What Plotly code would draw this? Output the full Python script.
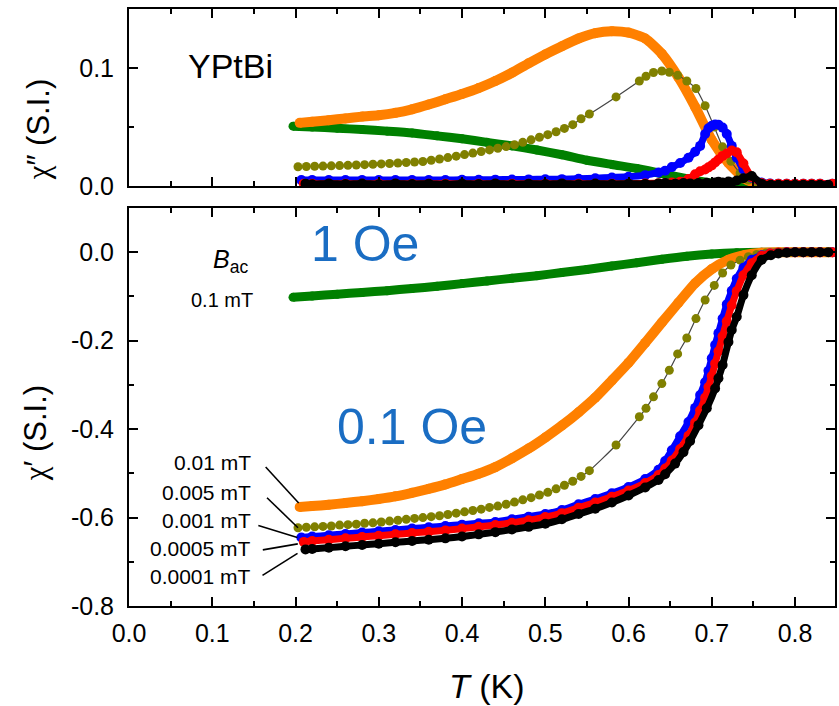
import plotly.graph_objects as go

# ---------------- data ----------------
# 0.1 mT (green)
T_g = [0.197, 0.22, 0.25, 0.28, 0.31, 0.34, 0.37, 0.40, 0.43, 0.46, 0.49, 0.52, 0.55,
       0.58, 0.61, 0.64, 0.67, 0.70, 0.73, 0.76, 0.79, 0.82, 0.845]
chi1_g = [-0.102, -0.099, -0.095, -0.091, -0.087, -0.082, -0.077, -0.071, -0.065, -0.059,
          -0.053, -0.046, -0.039, -0.031, -0.024, -0.016, -0.009, -0.004, -0.001, 0.0,
          0.0, 0.0, 0.0]
chi2_g = [0.0507, 0.0500, 0.0490, 0.0478, 0.0465, 0.0450, 0.0425, 0.0400, 0.0370, 0.0340,
          0.0305, 0.0265, 0.0218, 0.0182, 0.0148, 0.0105, 0.0062, 0.0025, 0.0008, 0.0003,
          0.0002, 0.0002, 0.0002]

# 0.01 mT (orange)
T_o = [0.205, 0.22, 0.24, 0.26, 0.28, 0.30, 0.32, 0.34, 0.36, 0.38, 0.40, 0.42, 0.44, 0.46,
       0.48, 0.50, 0.52, 0.54, 0.56, 0.58, 0.60, 0.62, 0.64, 0.66, 0.68, 0.70, 0.72, 0.74,
       0.76, 0.78, 0.80, 0.82, 0.845]
chi1_o = [-0.576, -0.574, -0.571, -0.567, -0.563, -0.558, -0.552, -0.544, -0.535, -0.525,
          -0.513, -0.501, -0.486, -0.466, -0.444, -0.419, -0.392, -0.362, -0.329, -0.290,
          -0.250, -0.205, -0.159, -0.114, -0.070, -0.038, -0.017, -0.006, -0.001, 0.0,
          0.0, 0.0, 0.0]
chi2_o = [0.0535, 0.0545, 0.0558, 0.0572, 0.0588, 0.0600, 0.0620, 0.0650, 0.0690, 0.0735,
          0.0780, 0.0830, 0.0890, 0.0960, 0.1040, 0.1115, 0.1185, 0.1250, 0.1295, 0.1312,
          0.1300, 0.1250, 0.1120, 0.0920, 0.0670, 0.0390, 0.0195, 0.0060, 0.0015, 0.0005,
          0.0003, 0.0003, 0.0003]

# 0.005 mT (olive)
T_ol = [0.203, 0.213, 0.223, 0.233, 0.243, 0.253, 0.263, 0.273, 0.283, 0.293, 0.303, 0.313,
        0.323, 0.333, 0.343, 0.353, 0.363, 0.373, 0.383, 0.393, 0.403, 0.413, 0.423, 0.433,
        0.443, 0.453, 0.463, 0.473, 0.483, 0.493, 0.503, 0.513, 0.523, 0.533, 0.543, 0.553,
        0.585, 0.613, 0.621, 0.630, 0.640, 0.649, 0.659, 0.670, 0.681, 0.692, 0.703, 0.713,
        0.723, 0.734, 0.744, 0.754, 0.765, 0.775, 0.786, 0.796, 0.807, 0.817, 0.828, 0.838]
chi1_ol = [-0.623, -0.622, -0.621, -0.620, -0.619, -0.617, -0.616, -0.615, -0.613, -0.612,
           -0.610, -0.608, -0.606, -0.604, -0.602, -0.600, -0.598, -0.596, -0.593, -0.590,
           -0.587, -0.584, -0.581, -0.577, -0.574, -0.570, -0.565, -0.560, -0.555, -0.549,
           -0.543, -0.535, -0.527, -0.518, -0.507, -0.494,
           -0.436, -0.372, -0.353, -0.327, -0.297, -0.267, -0.230, -0.194, -0.150, -0.108,
           -0.075, -0.047, -0.029, -0.018, -0.010, -0.005, -0.002, -0.001, 0.0, 0.0,
           0.0, 0.0, 0.0, 0.0]
chi2_ol = [0.0163, 0.0165, 0.0167, 0.0169, 0.0171, 0.0173, 0.0175, 0.0178, 0.0181, 0.0184,
           0.0187, 0.0191, 0.0195, 0.0199, 0.0203, 0.0208, 0.0218, 0.0229, 0.0241, 0.0253,
           0.0266, 0.0279, 0.0292, 0.0306, 0.0320, 0.0334, 0.0350, 0.0370, 0.0391, 0.0413,
           0.0435, 0.0460, 0.0488, 0.0520, 0.0570, 0.0610,
           0.0755, 0.0890, 0.0930, 0.0962, 0.0975, 0.0964, 0.0938, 0.0890, 0.0826, 0.0680,
           0.0500, 0.0332, 0.0210, 0.0110, 0.0050, 0.0020, 0.0010, 0.0008, 0.0005, 0.0005,
           0.0005, 0.0005, 0.0005, 0.0005]

# 0.001 mT (blue)
T_b = [0.207, 0.22, 0.24, 0.26, 0.28, 0.30, 0.32, 0.34, 0.36, 0.38, 0.40, 0.42, 0.44, 0.46,
       0.48, 0.50, 0.52, 0.54, 0.56, 0.58, 0.60, 0.62, 0.636, 0.644, 0.652, 0.662, 0.672,
       0.680, 0.686, 0.692, 0.696, 0.700, 0.704, 0.708, 0.713, 0.718, 0.724, 0.730, 0.738,
       0.748, 0.76, 0.77, 0.78, 0.79, 0.80, 0.81, 0.82, 0.83, 0.845]
chi1_b = [-0.645, -0.643, -0.640, -0.637, -0.634, -0.631, -0.628, -0.625, -0.622, -0.619,
          -0.616, -0.613, -0.610, -0.604, -0.598, -0.592, -0.583, -0.570, -0.558, -0.545,
          -0.531, -0.513, -0.492, -0.472, -0.448, -0.416, -0.384, -0.352, -0.323, -0.294,
          -0.268, -0.240, -0.210, -0.183, -0.150, -0.118, -0.087, -0.060, -0.035, -0.017,
          -0.007, -0.003, -0.001, 0.0, 0.0, 0.0, 0.0, 0.0, 0.0]
chi2_b = [0.0050, 0.0050, 0.0050, 0.0050, 0.0050, 0.0050, 0.0050, 0.0050, 0.0050, 0.0051,
          0.0052, 0.0053, 0.0054, 0.0055, 0.0056, 0.0057, 0.0058, 0.0062, 0.0066, 0.0072,
          0.0078, 0.0092, 0.0115, 0.0130, 0.0160, 0.0195, 0.0240, 0.0290, 0.0340, 0.0440,
          0.0490, 0.0510, 0.0522, 0.0520, 0.0495, 0.0440, 0.0340, 0.0240, 0.0140, 0.0070,
          0.0030, 0.0022, 0.0020, 0.0020, 0.0020, 0.0020, 0.0020, 0.0020, 0.0020]

# 0.0005 mT (red)
T_r = [0.210, 0.22, 0.24, 0.26, 0.28, 0.30, 0.32, 0.34, 0.36, 0.38, 0.40, 0.42, 0.44, 0.46,
       0.48, 0.50, 0.52, 0.54, 0.56, 0.58, 0.60, 0.62, 0.636, 0.644, 0.652, 0.662, 0.672,
       0.680, 0.686, 0.692, 0.696, 0.700, 0.704, 0.708, 0.713, 0.718, 0.724, 0.730, 0.738,
       0.748, 0.76, 0.77, 0.78, 0.79, 0.80, 0.81, 0.82, 0.83, 0.845]
chi1_r = [-0.655, -0.653, -0.650, -0.647, -0.644, -0.641, -0.638, -0.635, -0.632, -0.629,
          -0.625, -0.621, -0.617, -0.612, -0.606, -0.599, -0.590, -0.578, -0.566, -0.553,
          -0.539, -0.522, -0.504, -0.489, -0.471, -0.445, -0.415, -0.385, -0.358, -0.329,
          -0.305, -0.280, -0.252, -0.224, -0.190, -0.156, -0.120, -0.088, -0.052, -0.025,
          -0.008, -0.003, -0.001, 0.0, 0.0, 0.0, 0.0, 0.0, 0.0]
chi2_r = [0.0020, 0.0020, 0.0020, 0.0020, 0.0020, 0.0020, 0.0020, 0.0020, 0.0020, 0.0020,
          0.0020, 0.0020, 0.0020, 0.0020, 0.0020, 0.0020, 0.0020, 0.0020, 0.0020, 0.0020,
          0.0020, 0.0022, 0.0024, 0.0026, 0.0030, 0.0036, 0.0060, 0.0100, 0.0125, 0.0140,
          0.0158, 0.0175, 0.0200, 0.0225, 0.0255, 0.0276, 0.0300, 0.0285, 0.0190, 0.0075,
          0.0025, 0.0020, 0.0020, 0.0020, 0.0020, 0.0020, 0.0020, 0.0020, 0.0020]

# 0.0001 mT (black)
T_k = [0.212, 0.22, 0.24, 0.26, 0.28, 0.30, 0.32, 0.34, 0.36, 0.38, 0.40, 0.42, 0.44, 0.46,
       0.48, 0.50, 0.52, 0.54, 0.56, 0.58, 0.60, 0.62, 0.636, 0.644, 0.656, 0.666, 0.674,
       0.684, 0.694, 0.704, 0.708, 0.713, 0.720, 0.724, 0.730, 0.738, 0.748, 0.760, 0.771,
       0.780, 0.790, 0.800, 0.810, 0.820, 0.830, 0.840]
chi1_k = [-0.672, -0.671, -0.668, -0.665, -0.662, -0.659, -0.656, -0.653, -0.650, -0.647,
          -0.643, -0.638, -0.633, -0.627, -0.621, -0.614, -0.604, -0.592, -0.580, -0.566,
          -0.550, -0.532, -0.515, -0.502, -0.478, -0.452, -0.427, -0.391, -0.353, -0.308,
          -0.285, -0.255, -0.203, -0.176, -0.146, -0.097, -0.052, -0.017, -0.007, -0.003,
          -0.001, 0.0, 0.0, 0.0, 0.0, 0.0]
chi2_k = [0.0020, 0.0015, 0.0022, 0.0016, 0.0021, 0.0015, 0.0022, 0.0016, 0.0020, 0.0015,
          0.0021, 0.0016, 0.0022, 0.0015, 0.0020, 0.0016, 0.0022, 0.0015, 0.0021, 0.0016,
          0.0020, 0.0018, 0.0022, 0.0025, 0.0020, 0.0026, 0.0022, 0.0025, 0.0028, 0.0030,
          0.0035, 0.0030, 0.0038, 0.0030, 0.0046, 0.0065, 0.0085, 0.0020, 0.0010, 0.0010,
          0.0010, 0.0010, 0.0010, 0.0010, 0.0010, 0.0010]

series_names = ["0.1 mT", "0.01 mT", "0.005 mT", "0.001 mT", "0.0005 mT", "0.0001 mT"]
label_names = ["0.01 mT", "0.005 mT", "0.001 mT", "0.0005 mT", "0.0001 mT"]

x_tickvals = [0.0, 0.1, 0.2, 0.3, 0.4, 0.5, 0.6, 0.7, 0.8]
x_ticktext = ["0.0", "0.1", "0.2", "0.3", "0.4", "0.5", "0.6", "0.7", "0.8"]
y1_tickvals = [-0.8, -0.6, -0.4, -0.2, 0.0]
y1_ticktext = ["-0.8", "-0.6", "-0.4", "-0.2", "0.0"]
y2_tickvals = [0.0, 0.1]
y2_ticktext = ["0.0", "0.1"]

# ---------------- figure ----------------
W_FIG, H_FIG = 839, 706
ML, MR, MT, MB = 129, 2, 9, 100
PW, PH = W_FIG - ML - MR, H_FIG - MT - MB


def px(x):
    return (x - ML) / PW


def py(y):
    return (H_FIG - MB - y) / PH


FONT = "Liberation Sans, Arial, Helvetica, sans-serif"
CHI = '<span style="font-family:Liberation Serif, DejaVu Serif, serif">χ</span>'

fig = go.Figure()

styles = [
    # (T, chi', chi'', color, marker size, line width, line color)
    (T_g, chi1_g, chi2_g, "#008000", 9, 9, "#008000"),
    (T_o, chi1_o, chi2_o, "#FF8000", 10, 10, "#FF8000"),
    (T_ol, chi1_ol, chi2_ol, "#808000", 9, 1.2, "#444444"),
    (T_b, chi1_b, chi2_b, "#0000FF", 10, 7, "#0000FF"),
    (T_r, chi1_r, chi2_r, "#FF0000", 10, 7, "#FF0000"),
    (T_k, chi1_k, chi2_k, "#000000", 10, 7, "#000000"),
]

for name, (T, c1, c2, col, ms, lw, lc) in zip(series_names, styles):
    fig.add_trace(go.Scatter(x=T, y=c1, mode="lines+markers", name=name,
                             line=dict(color=lc, width=lw, shape="spline", smoothing=0.6),
                             marker=dict(color=col, size=ms, line=dict(width=0)),
                             xaxis="x", yaxis="y", showlegend=False))
    fig.add_trace(go.Scatter(x=T, y=c2, mode="lines+markers", name=name,
                             line=dict(color=lc, width=lw, shape="spline", smoothing=0.6),
                             marker=dict(color=col, size=ms, line=dict(width=0)),
                             xaxis="x2", yaxis="y2", showlegend=False))

axis_common = dict(showline=True, linecolor="black", linewidth=2, mirror="ticks",
                   ticks="inside", ticklen=9, tickwidth=2, tickcolor="black",
                   showgrid=False, zeroline=False,
                   tickfont=dict(family=FONT, size=25, color="black"))
minor_common = dict(ticks="inside", ticklen=5, tickwidth=2, tickcolor="black", showgrid=False)

fig.update_layout(
    width=W_FIG, height=H_FIG,
    margin=dict(l=ML, r=MR, t=MT, b=MB, pad=0),
    plot_bgcolor="white", paper_bgcolor="white",
    showlegend=False,
    xaxis=dict(domain=[0, 1], anchor="y", range=[0, 0.848],
               tickmode="array", tickvals=x_tickvals, ticktext=x_ticktext,
               minor=dict(dtick=0.05, tick0=0, **minor_common),
               ticklabelstandoff=4, **axis_common),
    yaxis=dict(domain=[0, py(208)], anchor="x", range=[-0.8, 0.1],
               tickmode="array", tickvals=y1_tickvals, ticktext=y1_ticktext,
               minor=dict(dtick=0.1, tick0=0, **minor_common),
               ticklabelstandoff=8, **axis_common),
    xaxis2=dict(domain=[0, 1], anchor="y2", range=[0, 0.848], matches="x",
                showticklabels=False, tickmode="array", tickvals=x_tickvals,
                minor=dict(dtick=0.05, tick0=0, **minor_common),
                **axis_common),
    yaxis2=dict(domain=[py(186), 1], anchor="x2", range=[0, 0.15],
                tickmode="array", tickvals=y2_tickvals, ticktext=y2_ticktext,
                minor=dict(dtick=0.05, tick0=0, **minor_common),
                ticklabelstandoff=8, **axis_common),
)


def note(text, x, y, size, color="black", xanchor="center", angle=0):
    return dict(text=text, x=px(x), y=py(y), xref="paper", yref="paper",
                xanchor=xanchor, yanchor="middle", showarrow=False, textangle=angle,
                font=dict(family=FONT, size=size, color=color))


ann = [
    note("YPtBi", 231, 66, 34),
    note(CHI + "″ (S.I.)", 38, 129, 31, angle=-90),
    note(CHI + "′ (S.I.)", 35, 433, 31, angle=-90),
    note("<i>T</i> (K)", 488, 686, 34),
    note("1 Oe", 366, 244, 50, color="#1A6DC3"),
    note("0.1 Oe", 413, 427, 50, color="#1A6DC3"),
    note("<i>B</i><sub>ac</sub>", 211, 261, 25, xanchor="left"),
    note("0.1 mT", 222, 300, 20),
]
label_y = [462, 492, 520, 548, 576]
for name, yy in zip(label_names, label_y):
    ann.append(note(name, 253, yy, 21, xanchor="right"))
fig.update_layout(annotations=ann)

# leader lines from the labels to the first point of each curve
starts = [(T_o[0], chi1_o[0]), (T_ol[0], chi1_ol[0]), (T_b[0], chi1_b[0]),
          (T_r[0], chi1_r[0]), (T_k[0], chi1_k[0])]
offsets = [(-34, 40, -1, 4), (-31, 30, 0, 0), (-43, 12, -4, 0),
           (-41, -8, -6, -2), (-43, -26, -8, -4)]
shapes = []
for (t0, v0), (dx0, dy0, dx1, dy1) in zip(starts, offsets):
    shapes.append(dict(type="line", xref="x", yref="y",
                       xsizemode="pixel", xanchor=t0, x0=dx0, x1=dx1,
                       ysizemode="pixel", yanchor=v0, y0=dy0, y1=dy1,
                       line=dict(color="black", width=1.6)))
fig.update_layout(shapes=shapes)

fig.write_html("out.html")
